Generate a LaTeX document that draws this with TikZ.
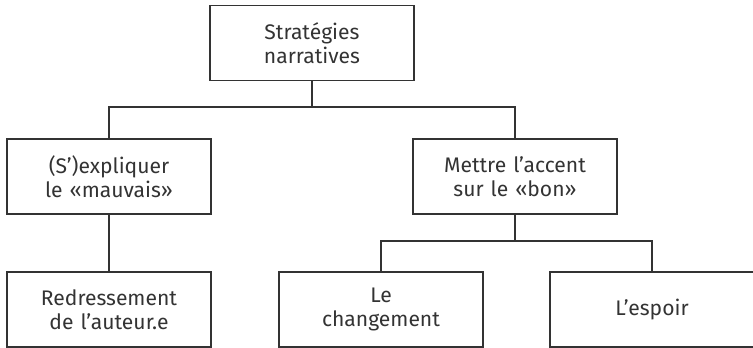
\documentclass[tikz,border=0pt]{standalone}
\usepackage{fontspec}
\setmainfont{Fira Sans}

\begin{document}
\begin{tikzpicture}[
        boite/.style={
            rectangle,
            draw=black!80,
            line width=0.6pt,
            minimum width=4.08cm,
            minimum height=1.5cm,
            text width=3.8cm,
            align=center,
            text=black!80,
            font=\fontsize{12}{13.4}\selectfont
        },
        lien/.style={-, draw=black!80, line width=0.6pt}
    ]
    \useasboundingbox (0, 0) rectangle (15.06, 6.96);

    \node[boite] (strategies) at (6.24, 6.10) {Stratégies\\narratives};

    \node[boite] (expliquer) at (2.18, 3.43) {(S’)expliquer\\le «mauvais»};
    \node[boite] (accent) at (10.30, 3.43) {Mettre l’accent\\sur le «bon»};

    \node[boite] (redressement) at (2.18, 0.77) {Redressement\\de l’auteur.e};
    \node[boite] (changement) at (7.62, 0.77) {Le\\changement};
    \node[boite] (espoir) at (13.04, 0.77) {L’espoir};

    \draw[lien] (strategies.south) |- (2.18, 4.82) -- (expliquer.north);
    \draw[lien] (strategies.south) |- (10.30, 4.82) -- (accent.north);
    \draw[lien] (expliquer.south) -- (redressement.north);
    \draw[lien] (accent.south) |- (7.62, 2.14) -- (changement.north);
    \draw[lien] (accent.south) |- (13.04, 2.14) -- (espoir.north);

\end{tikzpicture}
\end{document}
